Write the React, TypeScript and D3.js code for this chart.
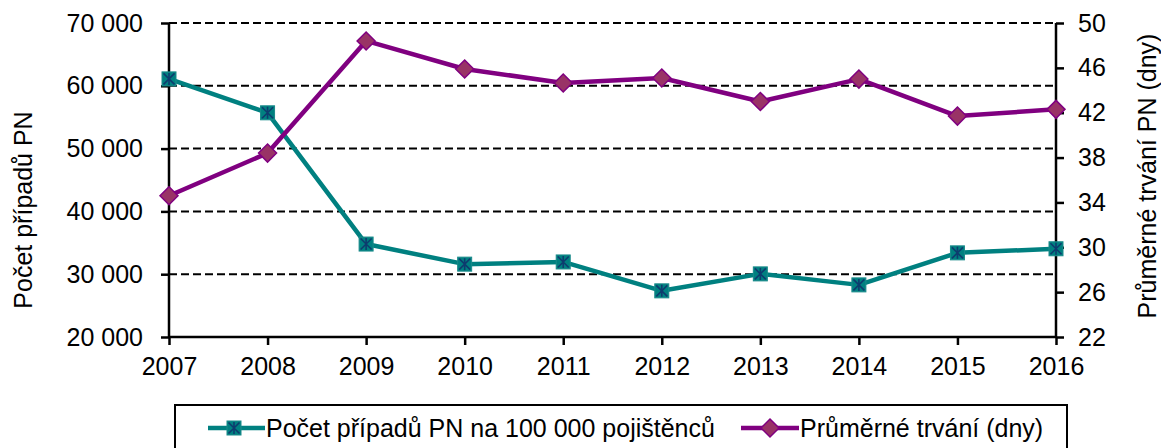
import React, { useEffect, useRef } from 'react';
import * as d3 from 'd3';

const years = [2007, 2008, 2009, 2010, 2011, 2012, 2013, 2014, 2015, 2016];
const cases = [61100, 55700, 34800, 31600, 31950, 27350, 30050, 28300, 33400, 34050];
const duration = [34.6, 38.4, 48.4, 45.9, 44.65, 45.1, 43.0, 45.0, 41.7, 42.3];
const leftTicks = [20000, 30000, 40000, 50000, 60000, 70000];
const rightTicks = [22, 26, 30, 34, 38, 42, 46, 50];

const App = () => {
  const ref = useRef<SVGSVGElement>(null);

  useEffect(() => {
    const svg = d3.select(ref.current);
    svg.selectAll('*').remove();

    const left = 169, right = 1056, top = 23, bottom = 337;
    const font = 'Liberation Sans, Arial, sans-serif';
    const fs = 25;

    const x = d3.scaleLinear().domain([2007, 2016]).range([left, right]);
    const yL = d3.scaleLinear().domain([20000, 70000]).range([bottom, top]);
    const yR = d3.scaleLinear().domain([22, 50]).range([bottom, top]);

    const fmt = (v: number) => d3.format(',')(v).replace(/,/g, '\u00a0');

    // gridlines
    svg.append('g')
      .selectAll('line')
      .data(leftTicks.slice(1))
      .enter().append('line')
      .attr('x1', left).attr('x2', right)
      .attr('y1', d => yL(d)).attr('y2', d => yL(d))
      .attr('stroke', '#000').attr('stroke-width', 2)
      .attr('stroke-dasharray', '8,4');

    // left axis
    const gL = svg.append('g')
      .attr('transform', `translate(${left},0)`)
      .call(d3.axisLeft(yL).tickValues(leftTicks).tickFormat(d => fmt(+d)).tickSize(8).tickPadding(18));
    // right axis
    const gR = svg.append('g')
      .attr('transform', `translate(${right},0)`)
      .call(d3.axisRight(yR).tickValues(rightTicks).tickSize(8).tickPadding(14));
    // bottom axis
    const gB = svg.append('g')
      .attr('transform', `translate(0,${bottom})`)
      .call(d3.axisBottom(x).tickValues(years).tickFormat(d3.format('d')).tickSize(8).tickPadding(12));

    [gL, gR, gB].forEach(g => {
      g.select('.domain').attr('stroke', '#000').attr('stroke-width', 2.5);
      g.selectAll('.tick line').attr('stroke', '#000').attr('stroke-width', 2.5);
      g.selectAll('.tick text').attr('fill', '#000').attr('font-family', font).attr('font-size', fs);
    });
    gL.select('.domain').attr('d', `M0,${bottom}V${top}`);
    gR.select('.domain').attr('d', `M0,${bottom}V${top}`);
    gB.select('.domain').attr('d', `M${left},0H${right}`);

    // axis titles
    svg.append('text')
      .attr('transform', `translate(32,210) rotate(-90)`)
      .attr('text-anchor', 'middle')
      .attr('font-family', font).attr('font-size', fs)
      .text('Počet případů PN');
    svg.append('text')
      .attr('transform', `translate(1156,176) rotate(-90)`)
      .attr('text-anchor', 'middle')
      .attr('font-family', font).attr('font-size', fs)
      .text('Průměrné trvání PN (dny)');

    const teal = '#008080';
    const purple = '#800080';

    const drawSquare = (g: any, cx: number, cy: number) => {
      const s = 7;
      g.append('rect')
        .attr('x', cx - s).attr('y', cy - s).attr('width', s * 2).attr('height', s * 2)
        .attr('fill', teal).attr('stroke', '#1a8a8a').attr('stroke-width', 1);
      g.append('path')
        .attr('d', `M${cx - s + 1.5},${cy - s + 1.5}L${cx + s - 1.5},${cy + s - 1.5}M${cx + s - 1.5},${cy - s + 1.5}L${cx - s + 1.5},${cy + s - 1.5}M${cx},${cy - s + 1}V${cy + s - 1}`)
        .attr('stroke', '#0d3c6e').attr('stroke-width', 1.6).attr('fill', 'none');
    };
    const drawDiamond = (g: any, cx: number, cy: number) => {
      const s = 9;
      g.append('path')
        .attr('d', `M${cx},${cy - s}L${cx + s},${cy}L${cx},${cy + s}L${cx - s},${cy}Z`)
        .attr('fill', '#993366').attr('stroke', purple).attr('stroke-width', 1.5);
    };

    // series 1
    const line1 = d3.line<number>().x((_, i) => x(years[i])).y(d => yL(d));
    svg.append('path').datum(cases).attr('d', line1)
      .attr('fill', 'none').attr('stroke', teal).attr('stroke-width', 4.5).attr('stroke-linejoin', 'round');
    const m1 = svg.append('g');
    cases.forEach((v, i) => drawSquare(m1, x(years[i]), yL(v)));

    // series 2
    const line2 = d3.line<number>().x((_, i) => x(years[i])).y(d => yR(d));
    svg.append('path').datum(duration).attr('d', line2)
      .attr('fill', 'none').attr('stroke', purple).attr('stroke-width', 4.5).attr('stroke-linejoin', 'round');
    const m2 = svg.append('g');
    duration.forEach((v, i) => drawDiamond(m2, x(years[i]), yR(v)));

    // legend
    const lg = svg.append('g');
    lg.append('rect')
      .attr('x', 175).attr('y', 405).attr('width', 892).attr('height', 60)
      .attr('fill', '#fff').attr('stroke', '#000').attr('stroke-width', 2);
    const ly = 428;
    lg.append('line').attr('x1', 208).attr('x2', 265).attr('y1', ly).attr('y2', ly)
      .attr('stroke', teal).attr('stroke-width', 4.5);
    drawSquare(lg, 234, ly);
    lg.append('text').attr('x', 266).attr('y', 437)
      .attr('font-family', font).attr('font-size', fs).text('Počet případů PN na 100 000 pojištěnců');
    lg.append('line').attr('x1', 741).attr('x2', 799).attr('y1', ly).attr('y2', ly)
      .attr('stroke', purple).attr('stroke-width', 4.5);
    drawDiamond(lg, 770, ly);
    lg.append('text').attr('x', 800).attr('y', 437)
      .attr('font-family', font).attr('font-size', fs).text('Průměrné trvání (dny)');
  }, []);

  return (
    <svg ref={ref} width={1161} height={448}
      style={{ position: 'absolute', left: 0, top: 0, background: '#fff' }} />
  );
};

export default App;
